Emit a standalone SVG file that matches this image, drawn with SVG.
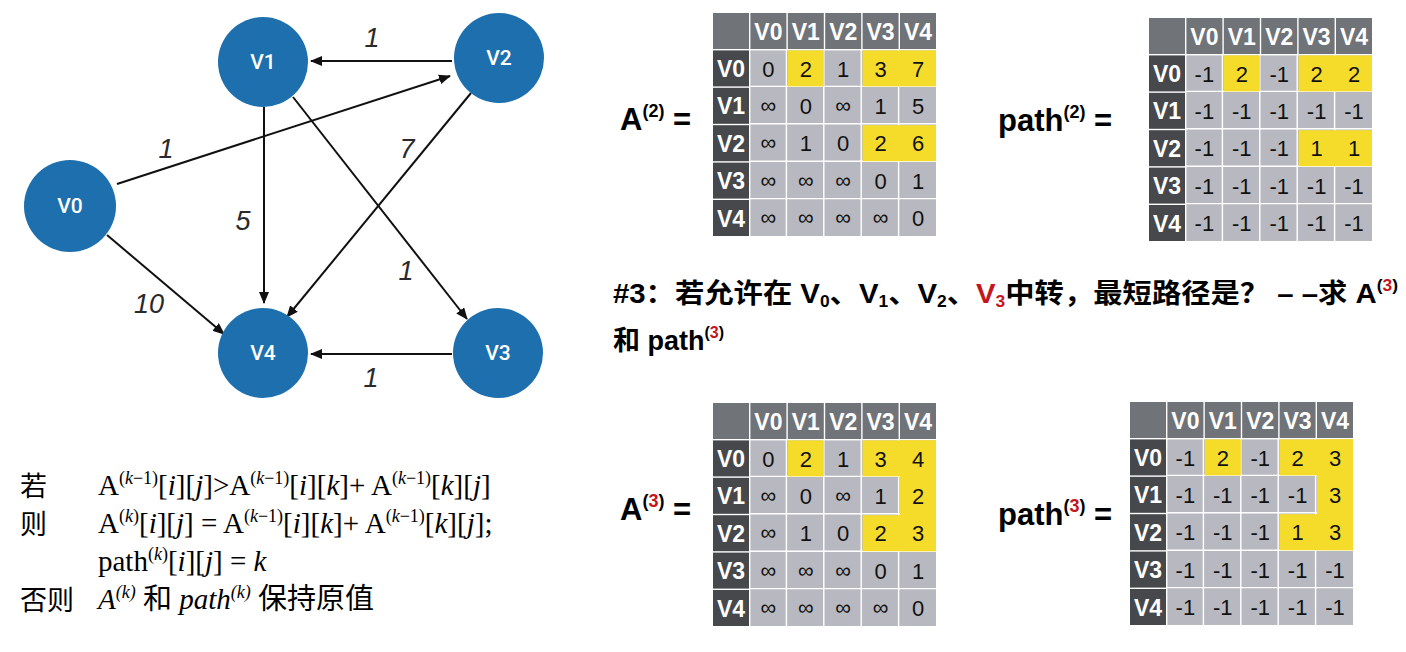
<svg xmlns="http://www.w3.org/2000/svg" xmlns:xlink="http://www.w3.org/1999/xlink" width="1406" height="652" viewBox="0 0 1406 652">
<style>
.node{fill:#1d6fae}
.nt{fill:#fff;font-family:Roboto,"Liberation Sans",Arial,sans-serif;font-weight:500;font-size:21px;text-anchor:middle}
.edge{stroke:#111;stroke-width:2;fill:none;marker-end:url(#arr)}
.el{fill:#2a2a2a;font-family:"Liberation Sans",Arial,sans-serif;font-style:italic;font-size:27px;text-anchor:middle}
.hd{fill:#707378}
.rh{fill:#46484c}
.dc{fill:#b8b9c0}
.yc{fill:#f5dc2b}
.ht{fill:#fff;font-family:"Liberation Sans",Arial,sans-serif;font-weight:bold;font-size:23px;text-anchor:middle}
.ct{fill:#111;font-family:"Liberation Sans",Arial,sans-serif;font-size:22px;text-anchor:middle}
.inf{font-size:22px}
.lbl{fill:#000;font-family:"Liberation Sans",Arial,sans-serif;font-weight:bold;font-size:31px}
.sup{font-size:18px}
.red{fill:#c4161c}
.t3{fill:#000;font-family:"Liberation Sans","Noto Sans CJK SC",sans-serif;font-weight:bold;font-size:27px}
.sub{font-size:16px}
.f{fill:#000;font-family:"Liberation Serif","Noto Sans CJK SC",serif;font-size:29px}
.s{font-size:18px}
.i{font-style:italic}
.cj{fill:#000;font-family:"Noto Sans CJK SC",sans-serif;font-size:27px}
</style>
<defs>
<marker id="arr" markerUnits="userSpaceOnUse" markerWidth="12" markerHeight="10" refX="11" refY="5" orient="auto">
<path d="M0,0 L12,5 L0,10 z" fill="#111"/>
</marker>
<g id="grid">
<rect class="hd" x="0" y="0" width="36" height="36"/>
<rect class="hd" x="37.4" y="0" width="36" height="36"/>
<rect class="hd" x="74.8" y="0" width="36" height="36"/>
<rect class="hd" x="112.2" y="0" width="36" height="36"/>
<rect class="hd" x="149.6" y="0" width="36" height="36"/>
<rect class="hd" x="187" y="0" width="36" height="36"/>
<rect class="rh" x="0" y="37.4" width="36" height="36"/>
<rect class="rh" x="0" y="74.8" width="36" height="36"/>
<rect class="rh" x="0" y="112.2" width="36" height="36"/>
<rect class="rh" x="0" y="149.6" width="36" height="36"/>
<rect class="rh" x="0" y="187" width="36" height="36"/>
<rect class="dc" x="37.4" y="37.4" width="185.6" height="185.6"/>
<path d="M73.4,37 V223 M110.8,37 V223 M148.2,37 V223 M185.6,37 V223 M37,73.4 H223 M37,110.8 H223 M37,148.2 H223 M37,185.6 H223" stroke="#fff" stroke-width="1.4" fill="none"/>
</g>
<g id="heads">
<text class="ht" x="55.4" y="26.5">V0</text>
<text class="ht" x="92.8" y="26.5">V1</text>
<text class="ht" x="130.2" y="26.5">V2</text>
<text class="ht" x="167.6" y="26.5">V3</text>
<text class="ht" x="205" y="26.5">V4</text>
<text class="ht" x="18" y="63.9">V0</text>
<text class="ht" x="18" y="101.3">V1</text>
<text class="ht" x="18" y="138.7">V2</text>
<text class="ht" x="18" y="176.1">V3</text>
<text class="ht" x="18" y="213.5">V4</text>
</g>
</defs>
<rect width="1406" height="652" fill="#fff"/>

<g id="connectors">
<line class="edge" x1="452" y1="61" x2="311" y2="61"/>
<line class="edge" x1="117" y1="184" x2="450" y2="76"/>
<line class="edge" x1="264" y1="107" x2="264" y2="303"/>
<line class="edge" x1="293" y1="97" x2="467" y2="319"/>
<line class="edge" x1="471" y1="93" x2="287" y2="317"/>
<line class="edge" x1="107" y1="235" x2="224" y2="334"/>
<line class="edge" x1="452" y1="354" x2="311" y2="354"/>
<text class="el" x="372" y="47">1</text>
<text class="el" x="166" y="158">1</text>
<text class="el" x="407" y="158">7</text>
<text class="el" x="243" y="230">5</text>
<text class="el" x="406" y="280">1</text>
<text class="el" x="149" y="313">10</text>
<text class="el" x="371" y="387">1</text>
</g>

<g id="node-V0"><circle class="node" cx="70" cy="206" r="46"/><text class="nt" x="70" y="213">V0</text></g>
<g id="node-V1"><circle class="node" cx="263" cy="62" r="45"/><text class="nt" x="263" y="69">V1</text></g>
<g id="node-V2"><circle class="node" cx="499" cy="58" r="45"/><text class="nt" x="499" y="65">V2</text></g>
<g id="node-V3"><circle class="node" cx="498" cy="353" r="45"/><text class="nt" x="498" y="360">V3</text></g>
<g id="node-V4"><circle class="node" cx="263" cy="353" r="45"/><text class="nt" x="263" y="360">V4</text></g>

<g id="label-A2"><text class="lbl" x="620" y="130">A<tspan class="sup" dy="-13">(2)</tspan><tspan dy="13"> =</tspan></text></g>
<g id="table-A2" transform="translate(713,13)">
<use xlink:href="#grid"/>
<rect class="yc" x="74.8" y="37.4" width="36" height="36"/>
<rect class="yc" x="149.6" y="37.4" width="73.4" height="36"/>
<rect class="yc" x="149.6" y="112.2" width="73.4" height="36"/>
<use xlink:href="#heads"/>
<g class="ct">
<text x="55.4" y="63.5">0</text><text x="92.8" y="63.5">2</text><text x="130.2" y="63.5">1</text><text x="167.6" y="63.5">3</text><text x="205" y="63.5">7</text>
<text class="inf" x="55.4" y="100">∞</text><text x="92.8" y="100.9">0</text><text class="inf" x="130.2" y="100">∞</text><text x="167.6" y="100.9">1</text><text x="205" y="100.9">5</text>
<text class="inf" x="55.4" y="137.4">∞</text><text x="92.8" y="138.3">1</text><text x="130.2" y="138.3">0</text><text x="167.6" y="138.3">2</text><text x="205" y="138.3">6</text>
<text class="inf" x="55.4" y="174.8">∞</text><text class="inf" x="92.8" y="174.8">∞</text><text class="inf" x="130.2" y="174.8">∞</text><text x="167.6" y="175.7">0</text><text x="205" y="175.7">1</text>
<text class="inf" x="55.4" y="212.2">∞</text><text class="inf" x="92.8" y="212.2">∞</text><text class="inf" x="130.2" y="212.2">∞</text><text class="inf" x="167.6" y="212.2">∞</text><text x="205" y="213.1">0</text>
</g>
</g>

<g id="label-path2"><text class="lbl" x="998" y="131">path<tspan class="sup" dy="-13">(2)</tspan><tspan dy="13"> =</tspan></text></g>
<g id="table-path2" transform="translate(1149,18)">
<use xlink:href="#grid"/>
<rect class="yc" x="74.8" y="37.4" width="36" height="36"/>
<rect class="yc" x="149.6" y="37.4" width="73.4" height="36"/>
<rect class="yc" x="149.6" y="112.2" width="73.4" height="36"/>
<use xlink:href="#heads"/>
<g class="ct">
<text x="55.4" y="63.5">-1</text><text x="92.8" y="63.5">2</text><text x="130.2" y="63.5">-1</text><text x="167.6" y="63.5">2</text><text x="205" y="63.5">2</text>
<text x="55.4" y="100.9">-1</text><text x="92.8" y="100.9">-1</text><text x="130.2" y="100.9">-1</text><text x="167.6" y="100.9">-1</text><text x="205" y="100.9">-1</text>
<text x="55.4" y="138.3">-1</text><text x="92.8" y="138.3">-1</text><text x="130.2" y="138.3">-1</text><text x="167.6" y="138.3">1</text><text x="205" y="138.3">1</text>
<text x="55.4" y="175.7">-1</text><text x="92.8" y="175.7">-1</text><text x="130.2" y="175.7">-1</text><text x="167.6" y="175.7">-1</text><text x="205" y="175.7">-1</text>
<text x="55.4" y="213.1">-1</text><text x="92.8" y="213.1">-1</text><text x="130.2" y="213.1">-1</text><text x="167.6" y="213.1">-1</text><text x="205" y="213.1">-1</text>
</g>
</g>

<g id="question">
<text class="t3" x="613" y="303" textLength="785" lengthAdjust="spacingAndGlyphs">#3：若允许在 V<tspan class="sub" dy="4">0</tspan><tspan dy="-4">、V</tspan><tspan class="sub" dy="4">1</tspan><tspan dy="-4">、V</tspan><tspan class="sub" dy="4">2</tspan><tspan dy="-4">、</tspan><tspan class="red">V</tspan><tspan class="sub red" dy="4">3</tspan><tspan dy="-4">中转，最短路径是？ – –求 A</tspan><tspan class="sub" dy="-12">(</tspan><tspan class="sub red">3</tspan><tspan class="sub">)</tspan></text>
<text class="t3" x="613" y="350">和 path<tspan class="sub" dy="-12">(</tspan><tspan class="sub red">3</tspan><tspan class="sub">)</tspan></text>
</g>

<g id="label-A3"><text class="lbl" x="620" y="520">A<tspan class="sup" dy="-13">(</tspan><tspan class="sup red">3</tspan><tspan class="sup">)</tspan><tspan dy="13"> =</tspan></text></g>
<g id="table-A3" transform="translate(713,403)">
<use xlink:href="#grid"/>
<rect class="yc" x="74.8" y="37.4" width="36" height="36"/>
<rect class="yc" x="149.6" y="37.4" width="73.4" height="36"/>
<rect class="yc" x="187" y="37.4" width="36" height="110.8"/>
<rect class="yc" x="149.6" y="112.2" width="73.4" height="36"/>
<use xlink:href="#heads"/>
<g class="ct">
<text x="55.4" y="63.5">0</text><text x="92.8" y="63.5">2</text><text x="130.2" y="63.5">1</text><text x="167.6" y="63.5">3</text><text x="205" y="63.5">4</text>
<text class="inf" x="55.4" y="100">∞</text><text x="92.8" y="100.9">0</text><text class="inf" x="130.2" y="100">∞</text><text x="167.6" y="100.9">1</text><text x="205" y="100.9">2</text>
<text class="inf" x="55.4" y="137.4">∞</text><text x="92.8" y="138.3">1</text><text x="130.2" y="138.3">0</text><text x="167.6" y="138.3">2</text><text x="205" y="138.3">3</text>
<text class="inf" x="55.4" y="174.8">∞</text><text class="inf" x="92.8" y="174.8">∞</text><text class="inf" x="130.2" y="174.8">∞</text><text x="167.6" y="175.7">0</text><text x="205" y="175.7">1</text>
<text class="inf" x="55.4" y="212.2">∞</text><text class="inf" x="92.8" y="212.2">∞</text><text class="inf" x="130.2" y="212.2">∞</text><text class="inf" x="167.6" y="212.2">∞</text><text x="205" y="213.1">0</text>
</g>
</g>

<g id="label-path3"><text class="lbl" x="998" y="525">path<tspan class="sup" dy="-13">(</tspan><tspan class="sup red">3</tspan><tspan class="sup">)</tspan><tspan dy="13"> =</tspan></text></g>
<g id="table-path3" transform="translate(1130,402)">
<use xlink:href="#grid"/>
<rect class="yc" x="74.8" y="37.4" width="36" height="36"/>
<rect class="yc" x="149.6" y="37.4" width="73.4" height="36"/>
<rect class="yc" x="187" y="37.4" width="36" height="110.8"/>
<rect class="yc" x="149.6" y="112.2" width="73.4" height="36"/>
<use xlink:href="#heads"/>
<g class="ct">
<text x="55.4" y="63.5">-1</text><text x="92.8" y="63.5">2</text><text x="130.2" y="63.5">-1</text><text x="167.6" y="63.5">2</text><text x="205" y="63.5">3</text>
<text x="55.4" y="100.9">-1</text><text x="92.8" y="100.9">-1</text><text x="130.2" y="100.9">-1</text><text x="167.6" y="100.9">-1</text><text x="205" y="100.9">3</text>
<text x="55.4" y="138.3">-1</text><text x="92.8" y="138.3">-1</text><text x="130.2" y="138.3">-1</text><text x="167.6" y="138.3">1</text><text x="205" y="138.3">3</text>
<text x="55.4" y="175.7">-1</text><text x="92.8" y="175.7">-1</text><text x="130.2" y="175.7">-1</text><text x="167.6" y="175.7">-1</text><text x="205" y="175.7">-1</text>
<text x="55.4" y="213.1">-1</text><text x="92.8" y="213.1">-1</text><text x="130.2" y="213.1">-1</text><text x="167.6" y="213.1">-1</text><text x="205" y="213.1">-1</text>
</g>
</g>

<g id="formula">
<text class="cj" x="20" y="496">若</text>
<text class="f" x="98" y="495">A<tspan class="s" dy="-11">(</tspan><tspan class="s i">k</tspan><tspan class="s">−1)</tspan><tspan dy="11">[</tspan><tspan class="i">i</tspan>][<tspan class="i">j</tspan>]&gt;A<tspan class="s" dy="-11">(</tspan><tspan class="s i">k</tspan><tspan class="s">−1)</tspan><tspan dy="11">[</tspan><tspan class="i">i</tspan>][<tspan class="i">k</tspan>]+ A<tspan class="s" dy="-11">(</tspan><tspan class="s i">k</tspan><tspan class="s">−1)</tspan><tspan dy="11">[</tspan><tspan class="i">k</tspan>][<tspan class="i">j</tspan>]</text>
<text class="cj" x="20" y="534">则</text>
<text class="f" x="98" y="533">A<tspan class="s" dy="-11">(</tspan><tspan class="s i">k</tspan><tspan class="s">)</tspan><tspan dy="11">[</tspan><tspan class="i">i</tspan>][<tspan class="i">j</tspan>] = A<tspan class="s" dy="-11">(</tspan><tspan class="s i">k</tspan><tspan class="s">−1)</tspan><tspan dy="11">[</tspan><tspan class="i">i</tspan>][<tspan class="i">k</tspan>]+ A<tspan class="s" dy="-11">(</tspan><tspan class="s i">k</tspan><tspan class="s">−1)</tspan><tspan dy="11">[</tspan><tspan class="i">k</tspan>][<tspan class="i">j</tspan>];</text>
<text class="f" x="98" y="571">path<tspan class="s" dy="-11">(</tspan><tspan class="s i">k</tspan><tspan class="s">)</tspan><tspan dy="11">[</tspan><tspan class="i">i</tspan>][<tspan class="i">j</tspan>] = <tspan class="i">k</tspan></text>
<text class="cj" x="20" y="610">否则</text>
<text class="f" x="98" y="609"><tspan class="i">A</tspan><tspan class="s i" dy="-11">(k)</tspan><tspan dy="11"> 和 </tspan><tspan class="i">path</tspan><tspan class="s i" dy="-11">(k)</tspan><tspan dy="11"> 保持原值</tspan></text>
</g>
</svg>
